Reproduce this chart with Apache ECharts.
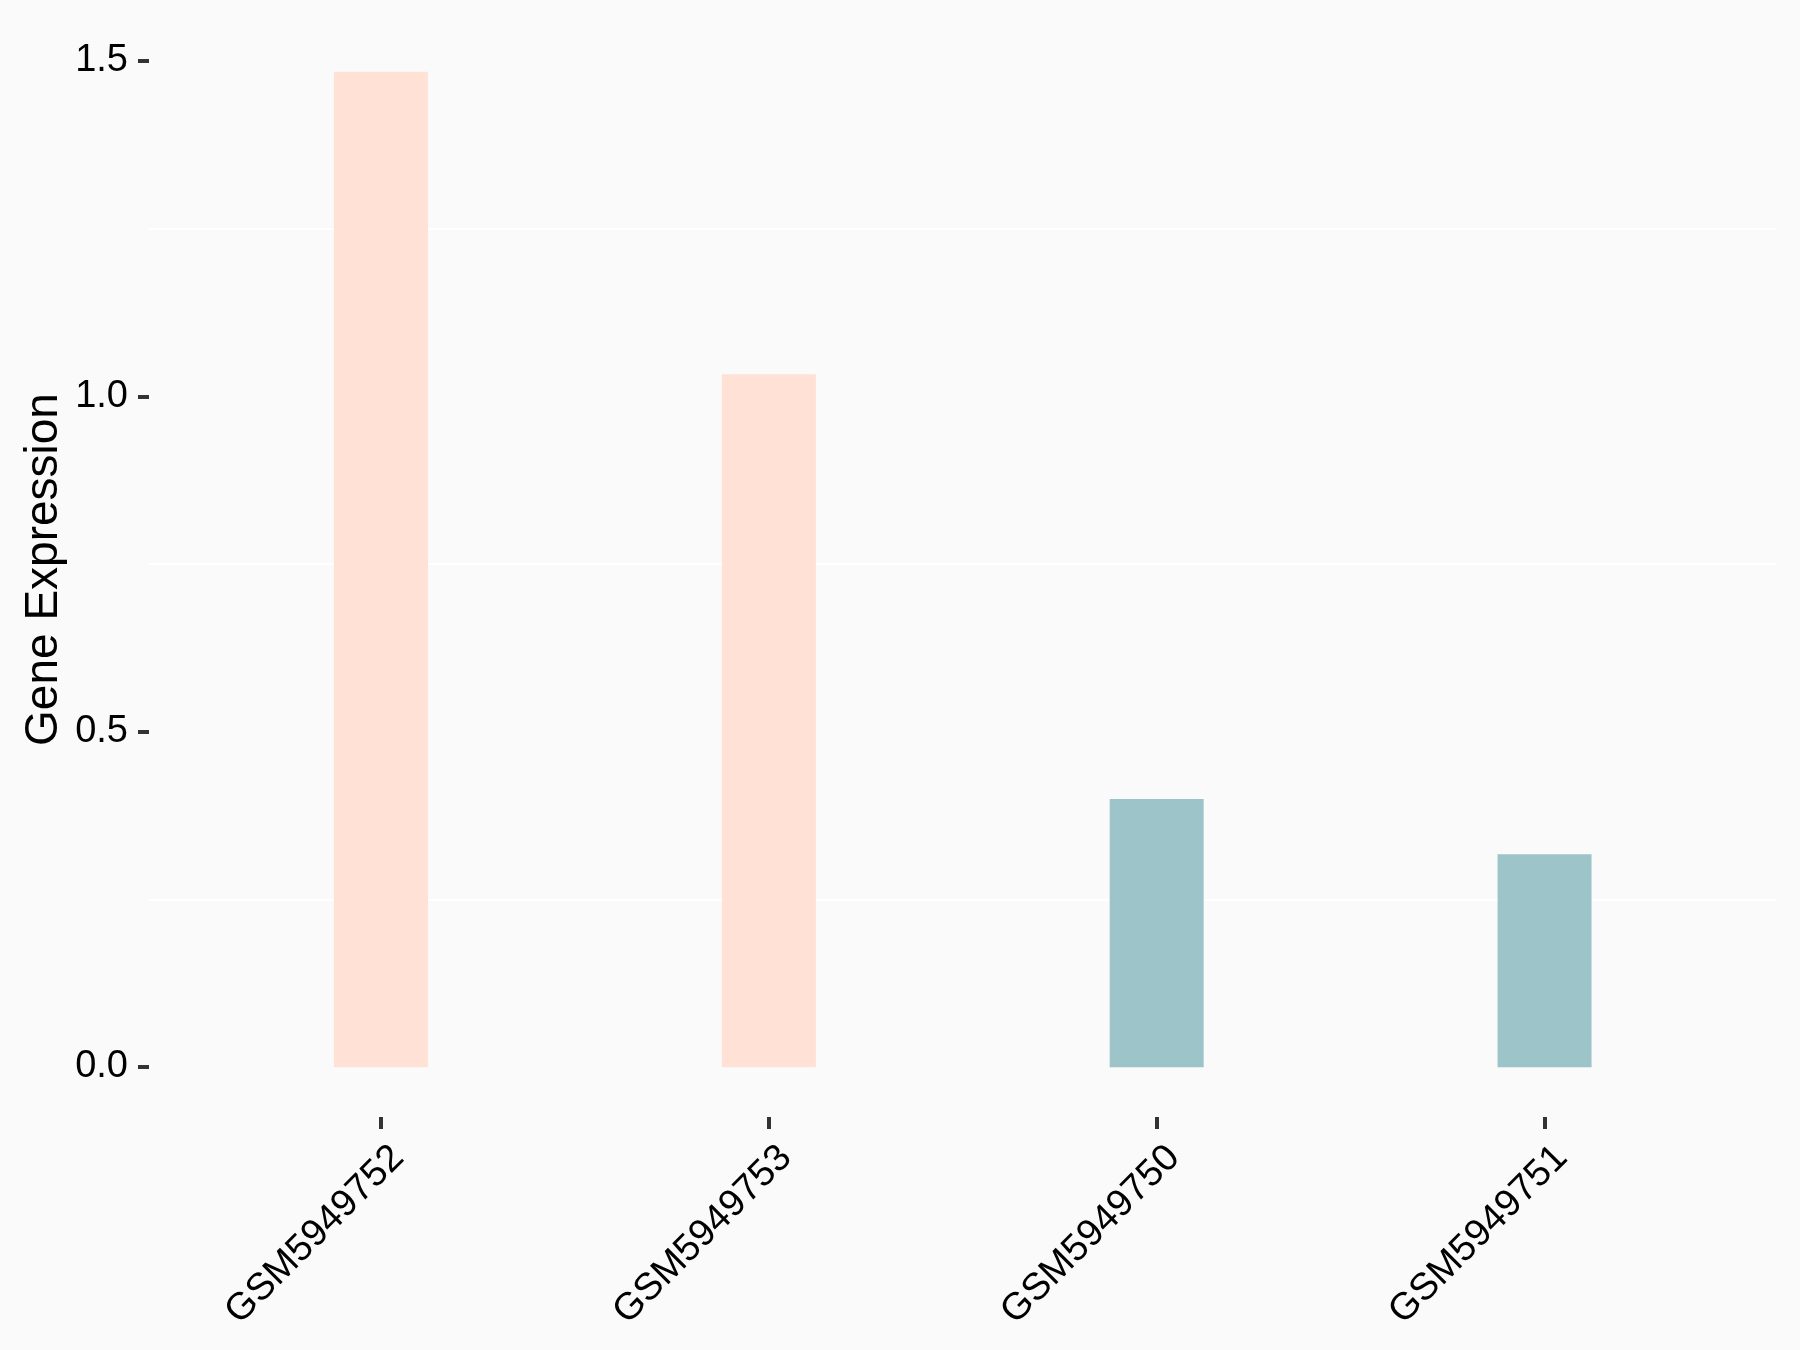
<!DOCTYPE html>
<html>
<head>
<meta charset="utf-8">
<script src="https://cdn.jsdelivr.net/npm/echarts@6/dist/echarts.min.js"></script>
<style>
  html, body { margin: 0; padding: 0; background: #FAFAFA; }
  #chart { width: 1800px; height: 1350px; }
</style>
</head>
<body>
<div id="chart"></div>
<script>
// ---- data ----
const categories = ['GSM5949752', 'GSM5949753', 'GSM5949750', 'GSM5949751'];
const values = [1.484, 1.033, 0.400, 0.3175];
const groups = ['high', 'high', 'low', 'low'];
const groupColors = { high: '#FFE1D6', low: '#9DC4C8' };
const yTicks = [0, 0.5, 1.0, 1.5];
const yTitle = 'Gene Expression';

const FONT = '"Liberation Sans", Arial, sans-serif';
const yMin = yTicks[0], yMax = yTicks[yTicks.length - 1];
const yInterval = yTicks[1] - yTicks[0];
// panel range with 5% expansion of the data range (like ggplot)
const dataMax = Math.max(...values), dataMin = Math.min(0, ...values);
const ext = 0.05 * (dataMax - dataMin);
const panelMin = dataMin - ext, panelMax = dataMax + ext;

const chart = echarts.init(document.getElementById('chart'), null, { renderer: 'canvas' });

const option = {
  backgroundColor: '#FAFAFA',
  animation: false,
  grid: [
    { left: 149, right: 23, top: 61, bottom: 283 },     // tick range (gridlines, y axis labels)
    { left: 187, right: 61.5, top: 22, bottom: 233 },   // full panel: bars + x ticks
    { left: 204, right: 44.5, top: 22, bottom: 233 }    // x labels
  ],
  xAxis: [
    { type: 'category', gridIndex: 0, data: categories, show: false },
    {
      type: 'category', gridIndex: 1, data: categories,
      axisLine: { show: false, onZero: false },
      axisTick: { show: true, alignWithLabel: true, length: 12, lineStyle: { color: '#333333', width: 4 } },
      axisLabel: { show: false }
    },
    {
      type: 'category', gridIndex: 2, data: categories,
      axisLine: { show: false, onZero: false },
      axisTick: { show: false },
      axisLabel: { show: true, rotate: 45, margin: 35, color: '#000000', fontSize: 38, fontFamily: FONT, interval: 0 }
    }
  ],
  yAxis: [
    {
      type: 'value', gridIndex: 0, min: yMin, max: yMax, interval: yInterval,
      axisLine: { show: false },
      axisTick: { show: true, length: 11, lineStyle: { color: '#333333', width: 4 } },
      axisLabel: { margin: 21, color: '#000000', fontSize: 38, fontFamily: FONT,
        formatter: (v) => v.toFixed(1) },
      splitLine: { show: false },
      minorTick: { show: false, splitNumber: 2 },
      minorSplitLine: { show: true, lineStyle: { color: '#FFFFFF', width: 2 } }
    },
    {
      type: 'value', gridIndex: 1, min: panelMin, max: panelMax,
      name: yTitle, nameLocation: 'middle', nameGap: 120,
      nameTextStyle: { fontSize: 46, color: '#000000', fontFamily: FONT },
      axisLine: { show: false }, axisTick: { show: false }, axisLabel: { show: false },
      splitLine: { show: false }
    },
    { type: 'value', gridIndex: 2, min: panelMin, max: panelMax, show: false }
  ],
  series: [
    {
      type: 'bar', xAxisIndex: 1, yAxisIndex: 1,
      barWidth: 94,
      data: values.map((v, i) => ({ value: v, itemStyle: { color: groupColors[groups[i]] } }))
    }
  ]
};
chart.setOption(option);
</script>
</body>
</html>
